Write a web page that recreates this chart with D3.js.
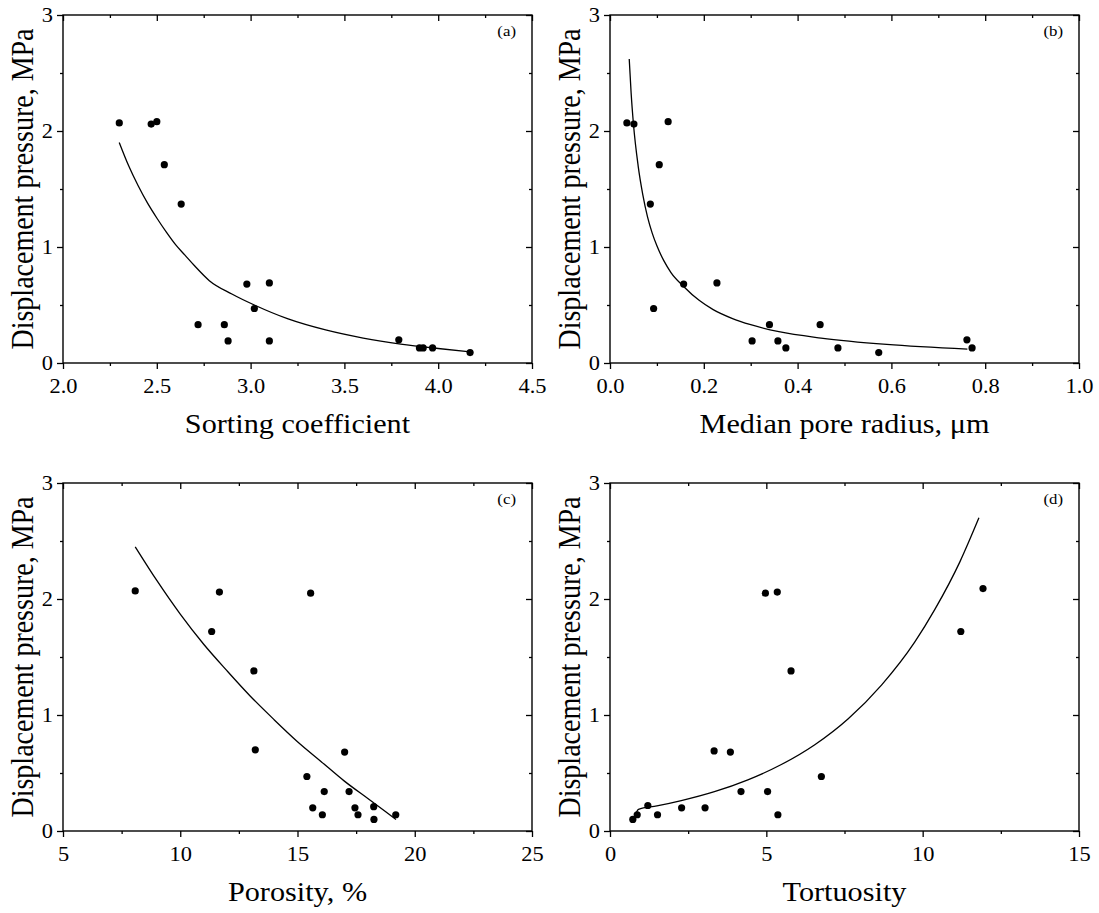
<!DOCTYPE html>
<html><head><meta charset="utf-8">
<script src="https://cdn.jsdelivr.net/npm/d3@7/dist/d3.min.js"></script>
<style>
body{margin:0;background:#fff}
svg{display:block}
text{font-family:"Liberation Serif","Times New Roman",Times,serif;fill:#000}
</style>
</head><body>
<svg id="chart" width="1099" height="913"></svg>
<script>
// ---------- data ----------
const aX = [2.30, 2.47, 2.50, 2.54, 2.63, 2.98, 3.10, 3.02, 2.72, 2.86, 2.88, 3.10, 3.79, 3.90, 3.92, 3.97, 4.17];
const aY = [2.07, 2.06, 2.08, 1.71, 1.37, 0.68, 0.69, 0.47, 0.33, 0.33, 0.19, 0.19, 0.20, 0.13, 0.13, 0.13, 0.09];
const aFitX = [2.30, 2.35, 2.40, 2.45, 2.50, 2.55, 2.60, 2.65, 2.70, 2.78, 2.90, 3.02, 3.20, 3.40, 3.60, 3.80, 4.00, 4.17];
const aFitY = [1.90, 1.70, 1.53, 1.38, 1.25, 1.13, 1.02, 0.93, 0.84, 0.71, 0.595, 0.50, 0.38, 0.285, 0.215, 0.163, 0.125, 0.097];

const bX = [0.036, 0.051, 0.124, 0.105, 0.086, 0.157, 0.228, 0.093, 0.340, 0.448, 0.303, 0.358, 0.375, 0.486, 0.573, 0.761, 0.772];
const bY = [2.07, 2.06, 2.08, 1.71, 1.37, 0.68, 0.69, 0.47, 0.33, 0.33, 0.19, 0.19, 0.13, 0.13, 0.09, 0.20, 0.13];
const bFitX = [0.041, 0.045, 0.050, 0.060, 0.070, 0.080, 0.090, 0.100, 0.115, 0.130, 0.157, 0.190, 0.220, 0.260, 0.300, 0.360, 0.450, 0.590, 0.762];
const bFitY = [2.62, 2.33, 2.06, 1.70, 1.45, 1.26, 1.12, 1.01, 0.88, 0.78, 0.66, 0.54, 0.46, 0.385, 0.33, 0.27, 0.215, 0.16, 0.12];

const cX = [8.08, 11.67, 15.56, 11.34, 13.14, 13.20, 15.40, 15.65, 17.01, 16.14, 17.20, 16.06, 17.45, 17.58, 18.25, 18.26, 19.19];
const cY = [2.07, 2.06, 2.05, 1.72, 1.38, 0.70, 0.47, 0.20, 0.68, 0.34, 0.34, 0.14, 0.20, 0.14, 0.21, 0.10, 0.14];
const cFitX = [8.08, 9.0, 10.0, 11.0, 12.0, 13.0, 14.0, 15.0, 16.0, 17.0, 18.0, 19.2];
const cFitY = [2.45, 2.16, 1.87, 1.61, 1.38, 1.16, 0.96, 0.77, 0.60, 0.43, 0.28, 0.10];

const dX = [0.73, 0.87, 1.21, 1.52, 2.29, 3.04, 4.19, 5.04, 5.37, 5.79, 6.76, 11.22, 11.93, 4.97, 5.35, 3.33, 3.85];
const dY = [0.10, 0.14, 0.22, 0.14, 0.20, 0.20, 0.34, 0.34, 0.14, 1.38, 0.47, 1.72, 2.09, 2.05, 2.06, 0.69, 0.68];
const dFitX = [0.81, 0.91, 1.50, 2.28, 3.34, 4.41, 5.48, 6.55, 7.62, 8.69, 9.75, 10.39, 11.19, 11.80];
const dFitY = [0.14, 0.187, 0.216, 0.262, 0.339, 0.441, 0.573, 0.744, 0.968, 1.26, 1.63, 1.91, 2.32, 2.70];

const yTicks = [0, 1, 2, 3];
const yTickLabels = ["0", "1", "2", "3"];
const yMinor = [0.5, 1.5, 2.5];

const aXTicks = [2.0, 2.5, 3.0, 3.5, 4.0, 4.5];
const aXLabels = ["2.0", "2.5", "3.0", "3.5", "4.0", "4.5"];
const aXMinor = [2.25, 2.75, 3.25, 3.75, 4.25];
const bXTicks = [0, 0.2, 0.4, 0.6, 0.8, 1.0];
const bXLabels = ["0.0", "0.2", "0.4", "0.6", "0.8", "1.0"];
const bXMinor = [0.1, 0.3, 0.5, 0.7, 0.9];
const cXTicks = [5, 10, 15, 20, 25];
const cXLabels = ["5", "10", "15", "20", "25"];
const cXMinor = [7.5, 12.5, 17.5, 22.5];
const dXTicks = [0, 5, 10, 15];
const dXLabels = ["0", "5", "10", "15"];
const dXMinor = [2.5, 7.5, 12.5];

const yTitle = "Displacement pressure, MPa";
const xTitles = ["Sorting coefficient", "Median pore radius, μm", "Porosity, %", "Tortuosity"];
const panelTags = ["(a)", "(b)", "(c)", "(d)"];

// ---------- layout ----------
const W = 469, H = 348;
const SX = 1.12; // horizontal glyph stretch of the reference
const panels = [
  {left: 63,  top: 15,  xs: aX, ys: aY, fx: aFitX, fy: aFitY, dom: [2, 4.5], tv: aXTicks, tl: aXLabels, mn: aXMinor},
  {left: 610, top: 15,  xs: bX, ys: bY, fx: bFitX, fy: bFitY, dom: [0, 1],   tv: bXTicks, tl: bXLabels, mn: bXMinor},
  {left: 63,  top: 483, xs: cX, ys: cY, fx: cFitX, fy: cFitY, dom: [5, 25],  tv: cXTicks, tl: cXLabels, mn: cXMinor},
  {left: 610, top: 483, xs: dX, ys: dY, fx: dFitX, fy: dFitY, dom: [0, 15],  tv: dXTicks, tl: dXLabels, mn: dXMinor}
];

const svg = d3.select("#chart");

panels.forEach((p, i) => {
  const g = svg.append("g").attr("transform", `translate(${p.left},${p.top})`);
  const x = d3.scaleLinear().domain(p.dom).range([0, W]);
  const y = d3.scaleLinear().domain([0, 3]).range([H, 0]);

  const styleAxis = sel => {
    sel.select(".domain").remove();
    sel.selectAll("line").attr("stroke", "#000").attr("stroke-width", 1.3);
  };

  // bottom major
  g.append("g").attr("transform", `translate(0,${H})`)
    .call(d3.axisBottom(x).tickValues(p.tv).tickFormat((d, k) => p.tl[k]).tickSize(6).tickSizeOuter(0).tickPadding(10))
    .call(styleAxis)
    .call(s => s.selectAll("text").attr("font-size", 20).attr("transform", `scale(${SX},1)`));
  // bottom minor
  g.append("g").attr("transform", `translate(0,${H})`)
    .call(d3.axisBottom(x).tickValues(p.mn).tickFormat("").tickSize(3).tickSizeOuter(0))
    .call(styleAxis);
  // top (inward)
  g.append("g")
    .call(d3.axisTop(x).tickValues(p.tv).tickFormat("").tickSize(-6).tickSizeOuter(0)).call(styleAxis);
  g.append("g")
    .call(d3.axisTop(x).tickValues(p.mn).tickFormat("").tickSize(-3).tickSizeOuter(0)).call(styleAxis);
  // left major
  g.append("g")
    .call(d3.axisLeft(y).tickValues(yTicks).tickFormat((d, k) => yTickLabels[k]).tickSize(6).tickSizeOuter(0).tickPadding(3))
    .call(styleAxis)
    .call(s => s.selectAll("text").attr("font-size", 20).attr("transform", `scale(${SX},1)`));
  g.append("g")
    .call(d3.axisLeft(y).tickValues(yMinor).tickFormat("").tickSize(3).tickSizeOuter(0)).call(styleAxis);
  // right (inward)
  g.append("g").attr("transform", `translate(${W},0)`)
    .call(d3.axisRight(y).tickValues(yTicks).tickFormat("").tickSize(-6).tickSizeOuter(0)).call(styleAxis);
  g.append("g").attr("transform", `translate(${W},0)`)
    .call(d3.axisRight(y).tickValues(yMinor).tickFormat("").tickSize(-3).tickSizeOuter(0)).call(styleAxis);

  // frame
  g.append("rect").attr("x", 0).attr("y", 0).attr("width", W).attr("height", H)
    .attr("fill", "none").attr("stroke", "#000").attr("stroke-width", 1.4);

  // fitted curve
  const fit = p.fx.map((v, k) => [v, p.fy[k]]);
  g.append("path").datum(fit)
    .attr("fill", "none").attr("stroke", "#000").attr("stroke-width", 1.3)
    .attr("d", d3.line().x(d => x(d[0])).y(d => y(d[1])).curve(d3.curveMonotoneX));

  // points
  const pts = p.xs.map((v, k) => [v, p.ys[k]]);
  g.selectAll("circle.pt").data(pts).join("circle").attr("class", "pt")
    .attr("cx", d => x(d[0])).attr("cy", d => y(d[1])).attr("r", 3.6).attr("fill", "#000");

  // panel tag
  g.append("text").attr("transform", `translate(${W - 16},21) scale(${SX},1)`).attr("text-anchor", "end")
    .attr("font-size", 15).text(panelTags[i]);

  // x title
  g.append("text").attr("transform", `translate(${W / 2},${H + 70}) scale(${SX},1)`)
    .attr("text-anchor", "middle").attr("font-size", 27).text(xTitles[i]);

  // y title
  g.append("text").attr("transform", `translate(-30,${H / 2}) scale(${SX},1) rotate(-90)`)
    .attr("text-anchor", "middle").attr("font-size", 28).text(yTitle);
});
</script>
</body></html>
